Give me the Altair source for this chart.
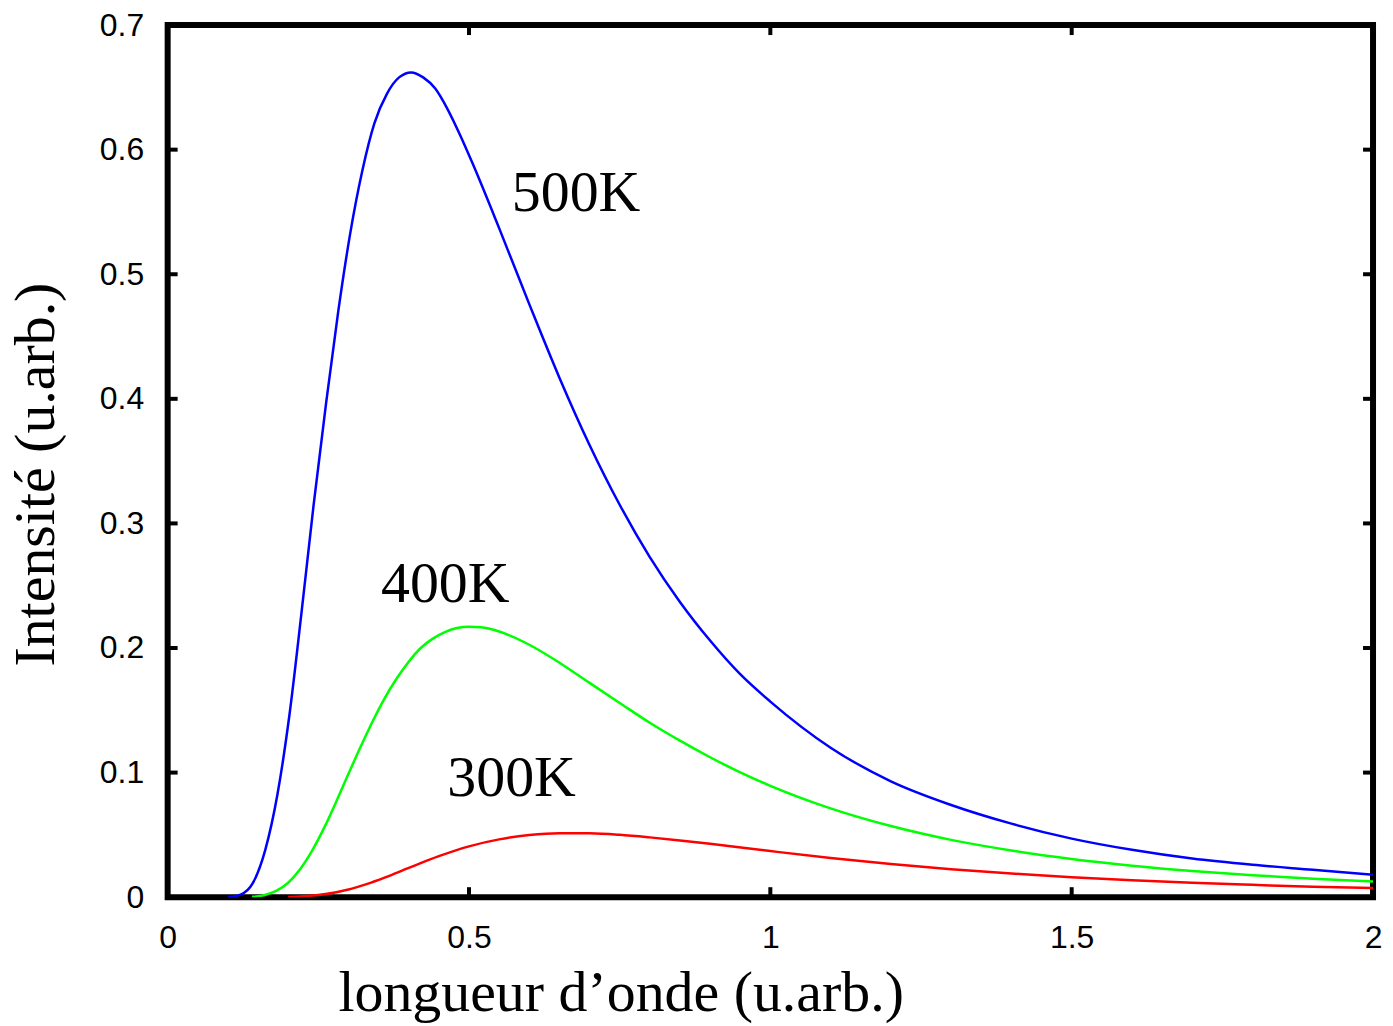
import altair as alt
import pandas as pd

# ---- data ----
x_tick_values = [0, 0.5, 1, 1.5, 2]
y_tick_values = [0, 0.1, 0.2, 0.3, 0.4, 0.5, 0.6, 0.7]
x_inner_ticks = [0.5, 1, 1.5]
y_inner_ticks = [0.1, 0.2, 0.3, 0.4, 0.5, 0.6]

series_names = ["500K", "400K", "300K"]
series_colors = ["#0000ff", "#00ff00", "#ff0000"]

x_500 = [0.10, 0.121, 0.141, 0.162, 0.182, 0.202, 0.222, 0.242, 0.263, 0.283,
         0.303, 0.323, 0.343, 0.364, 0.384, 0.404, 0.424, 0.444, 0.465, 0.485,
         0.505, 0.55, 0.60, 0.65, 0.70, 0.75, 0.80, 0.85, 0.90, 0.95, 1.0,
         1.1, 1.2, 1.3, 1.4, 1.5, 1.6, 1.7, 1.8, 1.9, 2.0]
y_500 = [0.0, 0.002, 0.011, 0.038, 0.082, 0.146, 0.228, 0.314, 0.397, 0.470,
         0.533, 0.583, 0.621, 0.645, 0.658, 0.662, 0.658, 0.649, 0.632, 0.612,
         0.590, 0.537, 0.476, 0.417, 0.363, 0.315, 0.273, 0.237, 0.206, 0.179, 0.157,
         0.120, 0.093, 0.074, 0.059, 0.047, 0.038, 0.031, 0.026, 0.022, 0.018]

x_400 = [0.14, 0.16, 0.18, 0.20, 0.22, 0.24, 0.26, 0.28, 0.30, 0.32, 0.34, 0.36,
         0.38, 0.40, 0.42, 0.44, 0.46, 0.48, 0.50, 0.52, 0.55, 0.60, 0.65, 0.70,
         0.75, 0.80, 0.85, 0.90, 0.95, 1.0, 1.1, 1.2, 1.3, 1.4, 1.5, 1.6, 1.7,
         1.8, 1.9, 2.0]
y_400 = [0.0003, 0.0016, 0.005, 0.0116, 0.0226, 0.0376, 0.056, 0.077, 0.099, 0.1205, 0.141, 0.1596,
         0.1755, 0.189, 0.200, 0.2075, 0.2127, 0.216, 0.217, 0.2166, 0.2132, 0.2026, 0.1882, 0.172,
         0.1559, 0.140, 0.1256, 0.1123, 0.1002, 0.0894, 0.0713, 0.0571, 0.046, 0.0375, 0.0307,
         0.0253, 0.021, 0.0176, 0.0148, 0.0126]

x_300 = [0.20, 0.22, 0.25, 0.28, 0.30, 0.33, 0.36, 0.40, 0.45, 0.50, 0.55, 0.60,
         0.65, 0.70, 0.75, 0.80, 0.85, 0.90, 1.0, 1.1, 1.2, 1.3, 1.4, 1.5, 1.6,
         1.7, 1.8, 1.9, 2.0]
y_300 = [0.0002, 0.0005, 0.0017, 0.004, 0.0061, 0.0105, 0.0157, 0.0235, 0.0329, 0.0408, 0.0464, 0.0499,
         0.0514, 0.0513, 0.0501, 0.048, 0.0455, 0.0428, 0.037, 0.0315, 0.0267, 0.0225, 0.019, 0.016,
         0.0136, 0.0115, 0.0099, 0.0084, 0.0073]

label_texts = ["500K", "400K", "300K"]
label_x = [0.571, 0.354, 0.464]
label_y = [0.551, 0.237, 0.081]

# ---- tables ----
rows = []
for name, xs, ys in [("500K", x_500, y_500), ("400K", x_400, y_400), ("300K", x_300, y_300)]:
    for i, (a, b) in enumerate(zip(xs, ys)):
        rows.append({"serie": name, "x": a, "y": b, "i": i})
curves = pd.DataFrame(rows)
labels = pd.DataFrame({"x": label_x, "y": label_y, "t": label_texts})
xt = pd.DataFrame({"x": x_inner_ticks})
yt = pd.DataFrame({"y": y_inner_ticks})

W, H = 1208, 874
TICK = 10

xscale = alt.Scale(domain=[0, 2], nice=False, zero=False)
yscale = alt.Scale(domain=[0, 0.7], nice=False, zero=False)

xaxis = alt.Axis(
    values=x_tick_values, format="~g", ticks=False, domain=False, grid=False,
    labelFont="Liberation Sans", labelFontSize=32, labelColor="black",
    labelPadding=25, labelFlush=False, labelOverlap=False, labelBound=False,
    title="longueur d\u2019onde (u.arb.)", titleFont="Liberation Serif",
    titleFontSize=58, titleFontWeight="normal", titleColor="black",
    titleX=454, titleY=114, titleBaseline="alphabetic", titleAlign="center",
)
yaxis = alt.Axis(
    values=y_tick_values, format="~g", ticks=False, domain=False, grid=False,
    labelFont="Liberation Sans", labelFontSize=32, labelColor="black",
    labelPadding=24, labelFlush=False, labelOverlap=False, labelBound=False,
    title="Intensit\u00e9 (u.arb.)", titleFont="Liberation Serif",
    titleFontSize=58, titleFontWeight="normal", titleColor="black",
    titleX=-114, titleY=450, titleAngle=270, titleBaseline="alphabetic",
    titleAlign="center",
)

xenc = alt.X("x:Q", scale=xscale, axis=xaxis)
yenc = alt.Y("y:Q", scale=yscale, axis=yaxis)

lines = alt.Chart(curves).mark_line(strokeWidth=2.5, clip=True, interpolate="monotone").encode(
    x=xenc, y=yenc,
    color=alt.Color("serie:N", scale=alt.Scale(domain=series_names, range=series_colors), legend=None),
    order="i:Q",
)

tick_bottom = alt.Chart(xt).mark_rule(strokeWidth=4, color="black").encode(
    x=xenc, y=alt.value(H), y2=alt.value(H - TICK))
tick_top = alt.Chart(xt).mark_rule(strokeWidth=4, color="black").encode(
    x=xenc, y=alt.value(0), y2=alt.value(TICK))
tick_left = alt.Chart(yt).mark_rule(strokeWidth=4, color="black").encode(
    y=yenc, x=alt.value(0), x2=alt.value(TICK))
tick_right = alt.Chart(yt).mark_rule(strokeWidth=4, color="black").encode(
    y=yenc, x=alt.value(W), x2=alt.value(W - TICK))

texts = alt.Chart(labels).mark_text(
    align="left", baseline="alphabetic", font="Liberation Serif",
    fontSize=58, color="black").encode(x=xenc, y=yenc, text="t:N")

chart = alt.layer(lines, tick_bottom, tick_top, tick_left, tick_right, texts).properties(
    width=W, height=H,
    autosize=alt.AutoSizeParams(type="none"),
    padding={"left": 160, "top": 16, "right": 12, "bottom": 128},
    background="white",
).configure_view(stroke="black", strokeWidth=6)

chart.save("out.html", embed_options={"renderer": "svg", "actions": False})
